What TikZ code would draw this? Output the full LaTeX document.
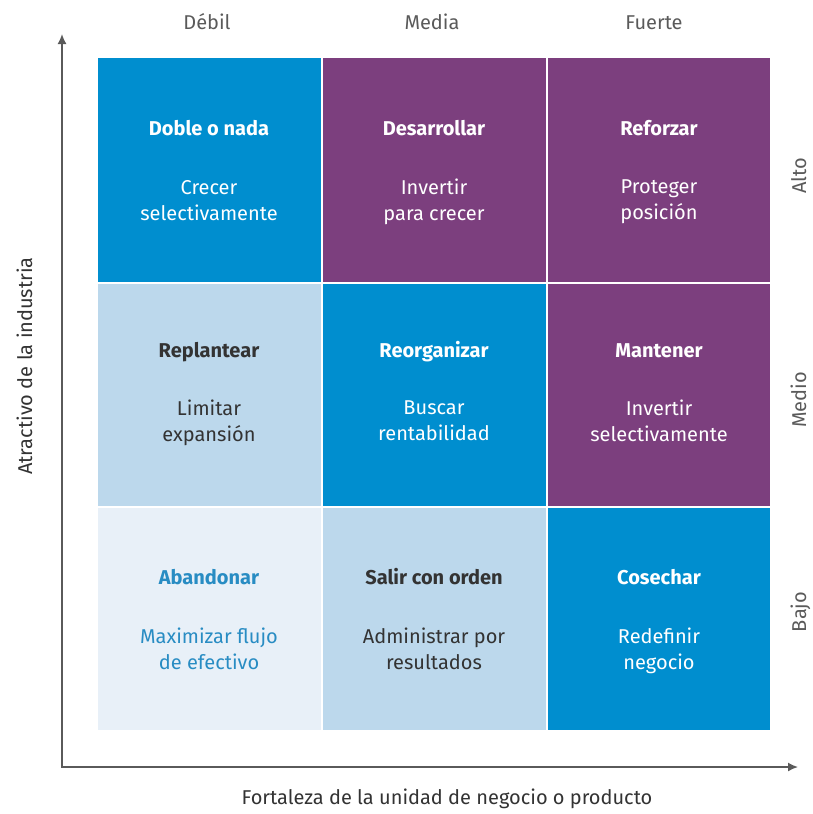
\documentclass[tikz,border=0pt]{standalone}
\usepackage{fontspec}
\setmainfont{Fira Sans}
\usetikzlibrary{arrows.meta}

\definecolor{azul}{RGB}{0,142,207}
\definecolor{morado}{RGB}{124,63,126}
\definecolor{celeste}{RGB}{188,216,236}
\definecolor{palido}{RGB}{232,240,248}
\definecolor{oscuro}{RGB}{51,51,51}
\definecolor{azultxt}{RGB}{40,140,195}
\definecolor{gris}{RGB}{90,90,90}

\begin{document}
\begin{tikzpicture}[x=0.5pt, y=-0.5pt,
  celda/.style = {draw=white, line width=0.8pt},
  titulo/.style = {font=\fontsize{10}{13}\selectfont\bfseries,
    execute at begin node=\strut},
  texto/.style = {font=\fontsize{10}{13}\selectfont, align=center,
    execute at begin node=\strut, execute at end node=\strut},
  eje/.style = {draw=gris, line width=0.8pt},
  rotulo/.style = {font=\fontsize{10}{13}\selectfont, text=gris,
    execute at begin node=\strut}]
\useasboundingbox (0,0) rectangle (813,814);

% cuadricula 3x3
\path[celda, fill=azul]    (97,57)  rectangle (322,283);
\path[celda, fill=morado]  (322,57) rectangle (547,283);
\path[celda, fill=morado]  (547,57) rectangle (771,283);
\path[celda, fill=celeste] (97,283)  rectangle (322,507);
\path[celda, fill=azul]    (322,283) rectangle (547,507);
\path[celda, fill=morado]  (547,283) rectangle (771,507);
\path[celda, fill=palido]  (97,507)  rectangle (322,731);
\path[celda, fill=celeste] (322,507) rectangle (547,731);
\path[celda, fill=azul]    (547,507) rectangle (771,731);

% fila alta
\node[titulo, text=white] (doble) at (209,130) {Doble o nada};
\node[texto, text=white] (crecer) at (209,204) {Crecer\\selectivamente};
\node[titulo, text=white] (desarrollar) at (434,130) {Desarrollar};
\node[texto, text=white] (invertir) at (434,204) {Invertir\\para crecer};
\node[titulo, text=white] (reforzar) at (659,130) {Reforzar};
\node[texto, text=white] (proteger) at (659,204) {Proteger\\posición};

% fila media
\node[titulo, text=oscuro] (replantear) at (209,352) {Replantear};
\node[texto, text=oscuro] (limitar) at (209,425) {Limitar\\expansión};
\node[titulo, text=white] (reorganizar) at (434,352) {Reorganizar};
\node[texto, text=white] (buscar) at (434,425) {Buscar\\rentabilidad};
\node[titulo, text=white] (mantener) at (659,352) {Mantener};
\node[texto, text=white] (invsel) at (659,425) {Invertir\\selectivamente};

% fila baja
\node[titulo, text=azultxt] (abandonar) at (209,579) {Abandonar};
\node[texto, text=azultxt] (maximizar) at (209,653) {Maximizar flujo\\de efectivo};
\node[titulo, text=oscuro] (salir) at (434,579) {Salir con orden};
\node[texto, text=oscuro] (administrar) at (434,653) {Administrar por\\resultados};
\node[titulo, text=white] (cosechar) at (659,579) {Cosechar};
\node[texto, text=white] (redefinir) at (659,653) {Redefinir\\negocio};

% ejes
\coordinate (origen) at (62,767);
\coordinate (ytope) at (62,34);
\coordinate (xfin) at (798,767);
\draw[eje, {Latex[length=5pt,width=4.5pt]}-{Latex[length=5pt,width=4.5pt]}]
  (ytope) -- (origen) -- (xfin);

% rotulos de columnas y filas
\node[rotulo] (debil) at (207,24) {Débil};
\node[rotulo] (media) at (432,24) {Media};
\node[rotulo] (fuerte) at (654,24) {Fuerte};
\node[rotulo, rotate=90] (alto) at (801,176) {Alto};
\node[rotulo, rotate=90] (medio) at (801,400) {Medio};
\node[rotulo, rotate=90] (bajo) at (801,612) {Bajo};

\node[rotulo, text=oscuro] (fortaleza) at (447,799) {Fortaleza de la unidad de negocio o producto};
\node[rotulo, text=oscuro, rotate=90] (atractivo) at (27,366) {Atractivo de la industria};
\end{tikzpicture}
\end{document}
